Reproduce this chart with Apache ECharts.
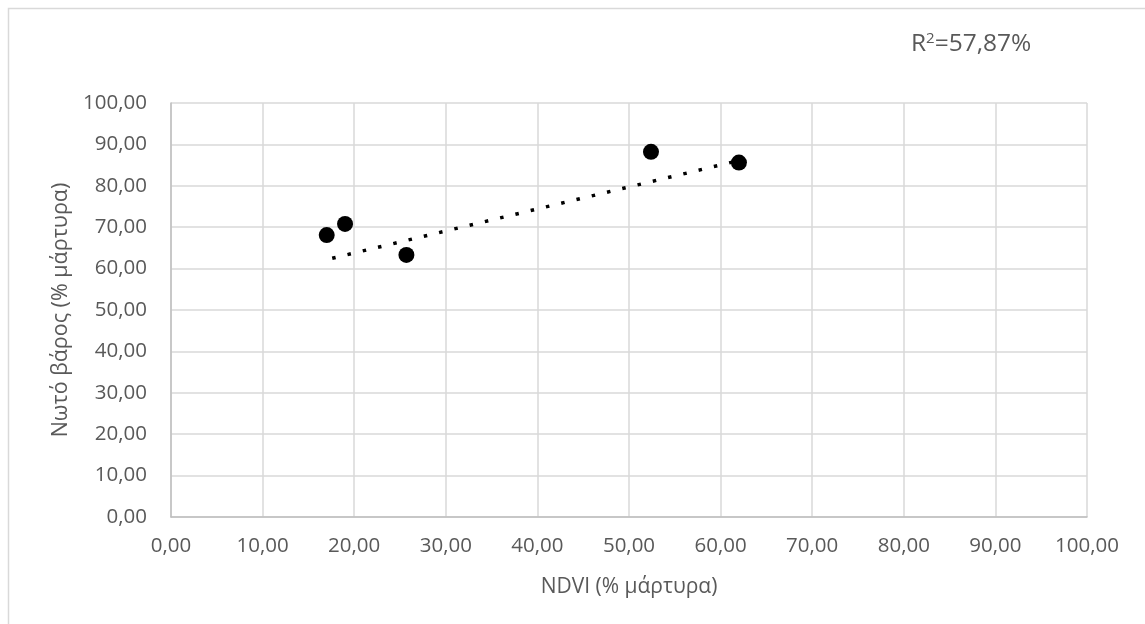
<!DOCTYPE html>
<html>
<head>
<meta charset="utf-8">
<script src="https://cdn.jsdelivr.net/npm/echarts@6/dist/echarts.min.js"></script>
<style>
  html, body { margin: 0; padding: 0; background: #fff; }
  #chart { width: 1145px; height: 624px; }
</style>
</head>
<body>
<div id="chart"></div>
<script>
// NDVI vs live weight, both as % of control
const ndvi = [17.0, 19.0, 25.7, 52.4, 62.0];
const weight = [68.1, 70.8, 63.3, 88.2, 85.6];

// Linear trendline end points
const trendX = [17.6, 62.0];
const trendY = [62.5, 86.1];

const axisTicks = [0, 10, 20, 30, 40, 50, 60, 70, 80, 90, 100];
const xTitle = 'NDVI (% μάρτυρα)';
const yTitle = 'Νωτό βάρος (% μάρτυρα)';
const r2Text = '57,87%';

const FONT = '"Open Sans", sans-serif';
const TEXT = '#595959';

const fmt = v => v.toFixed(2).replace('.', ',');

const chart = echarts.init(document.getElementById('chart'), null, { renderer: 'canvas' });

chart.setOption({
  backgroundColor: '#fff',
  animation: false,
  textStyle: { fontFamily: FONT },
  grid: { left: 171, top: 103, right: 58, bottom: 107, containLabel: false },
  xAxis: {
    type: 'value',
    min: axisTicks[0],
    max: axisTicks[axisTicks.length - 1],
    interval: 10,
    name: xTitle,
    nameLocation: 'middle',
    nameGap: 60,
    nameTextStyle: { fontFamily: FONT, fontSize: 21, color: TEXT },
    axisLine: { show: true, lineStyle: { color: '#bfbfbf', width: 1.5 } },
    axisTick: { show: false },
    axisLabel: { fontFamily: FONT, fontSize: 20.5, color: TEXT, margin: 19, formatter: fmt },
    splitLine: { show: true, lineStyle: { color: '#d9d9d9', width: 1.5 } }
  },
  yAxis: {
    type: 'value',
    min: axisTicks[0],
    max: axisTicks[axisTicks.length - 1],
    interval: 10,
    name: yTitle,
    nameLocation: 'middle',
    nameGap: 93,
    nameRotate: 90,
    nameTextStyle: { fontFamily: FONT, fontSize: 21.5, color: TEXT },
    axisLine: { show: true, lineStyle: { color: '#bfbfbf', width: 1.5 } },
    axisTick: { show: false },
    axisLabel: { fontFamily: FONT, fontSize: 20.5, color: TEXT, margin: 24, formatter: fmt },
    splitLine: { show: true, lineStyle: { color: '#d9d9d9', width: 1.5 } }
  },
  series: [
    {
      type: 'scatter',
      data: ndvi.map((x, i) => [x, weight[i]]),
      symbol: 'circle',
      symbolSize: 16,
      itemStyle: { color: '#000', opacity: 1 },
      z: 3
    },
    {
      type: 'line',
      data: trendX.map((x, i) => [x, trendY[i]]),
      showSymbol: false,
      symbol: 'none',
      lineStyle: { color: '#000', width: 3.5, type: [3.5, 12.2], cap: 'butt' },
      z: 2
    }
  ],
  graphic: [
    {
      type: 'rect',
      shape: { x: 8.5, y: 8.5, width: 1160, height: 640 },
      style: { fill: 'none', stroke: '#d9d9d9', lineWidth: 1.5 },
      silent: true
    },
    {
      type: 'text',
      left: 911,
      top: 31,
      style: {
        text: '{r|R}{s|2}{r|=' + r2Text + '}',
        rich: {
          r: { fontFamily: FONT, fontSize: 24.5, fill: TEXT, verticalAlign: 'bottom' },
          s: { fontFamily: FONT, fontSize: 15, fill: TEXT, padding: [0, 0, 11, 0], verticalAlign: 'bottom' }
        }
      }
    }
  ]
});
</script>
</body>
</html>
